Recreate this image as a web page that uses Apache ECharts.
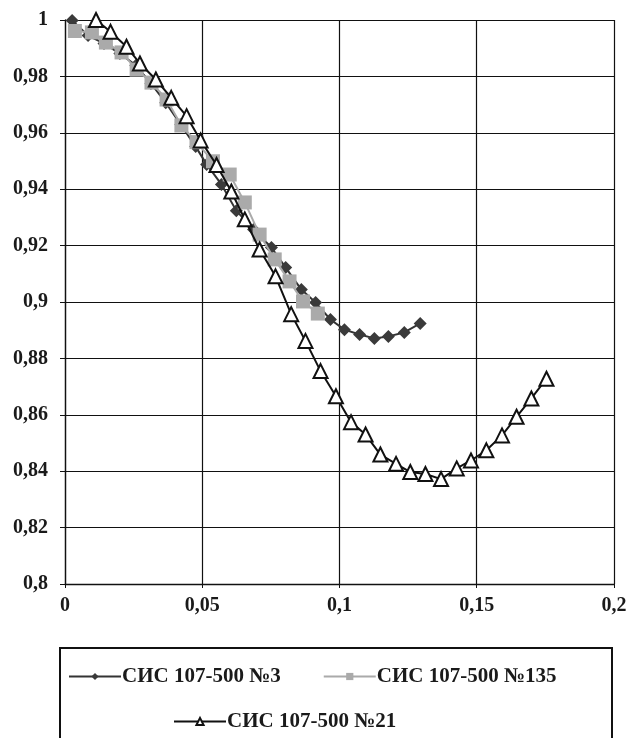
<!DOCTYPE html>
<html>
<head>
<meta charset="utf-8">
<script src="https://cdn.jsdelivr.net/npm/echarts@6/dist/echarts.min.js"></script>
<style>
html,body{margin:0;padding:0;background:#fff;}
#chart{width:642px;height:738px;}
</style>
</head>
<body>
<div id="chart"></div>
<script>
// ---- data ----
const seriesNames = ['СИС 107-500 №3', 'СИС 107-500 №135', 'СИС 107-500 №21'];

const s3X = [0.0026,0.0084,0.0142,0.0200,0.0258,0.0313,0.0367,0.0422,0.0476,0.0516,0.0570,0.0624,0.0687,0.0752,0.0804,0.0861,0.0913,0.0967,0.1018,0.1073,0.1127,0.1178,0.1236,0.1294];
const s3Y = [0.9998,0.9945,0.9917,0.9881,0.9839,0.9775,0.9707,0.9629,0.9551,0.9488,0.9417,0.9324,0.9257,0.9193,0.9122,0.9044,0.8998,0.8938,0.8902,0.8885,0.8871,0.8878,0.8892,0.8924];

const s135X = [0.0036,0.0098,0.0149,0.0206,0.0261,0.0315,0.0370,0.0424,0.0479,0.0539,0.0600,0.0655,0.0709,0.0764,0.0818,0.0867,0.0921];
const s135Y = [0.9961,0.9956,0.9920,0.9885,0.9824,0.9778,0.9718,0.9626,0.9567,0.9499,0.9452,0.9353,0.9239,0.9151,0.9073,0.9002,0.8959];

const s21X = [0.0113,0.0166,0.0224,0.0273,0.0331,0.0387,0.0443,0.0494,0.0552,0.0606,0.0655,0.0709,0.0767,0.0824,0.0876,0.0931,0.0987,0.1042,0.1095,0.1149,0.1206,0.1258,0.1313,0.1370,0.1427,0.1479,0.1535,0.1592,0.1645,0.1699,0.1754];
const s21Y = [1.0000,0.9958,0.9905,0.9846,0.9789,0.9724,0.9659,0.9573,0.9486,0.9392,0.9293,0.9186,0.9091,0.8957,0.8862,0.8755,0.8666,0.8574,0.8530,0.8459,0.8426,0.8397,0.8390,0.8372,0.8410,0.8438,0.8474,0.8527,0.8593,0.8658,0.8728];

const xTicks = [0, 0.05, 0.1, 0.15, 0.2];
const yTicks = [0.8, 0.82, 0.84, 0.86, 0.88, 0.9, 0.92, 0.94, 0.96, 0.98, 1];

// ---- chart ----
const pairs = (xs, ys) => xs.map((x, i) => [x, ys[i]]);
const fmt = v => String(parseFloat(Number(v).toFixed(3))).replace('.', ',');
const FONT = '"Liberation Serif", "DejaVu Serif", serif';

const chart = echarts.init(document.getElementById('chart'), null, {renderer: 'canvas'});

chart.setOption({
  animation: false,
  backgroundColor: '#fff',
  grid: {left: 65, right: 28, top: 20, bottom: 154, containLabel: false},
  xAxis: {
    type: 'value',
    min: xTicks[0], max: xTicks[xTicks.length - 1], interval: xTicks[1] - xTicks[0],
    axisLine: {show: true, onZero: false, lineStyle: {color: '#111', width: 1.3}},
    axisTick: {show: true, length: 4, lineStyle: {color: '#111'}},
    splitLine: {show: true, lineStyle: {color: '#111', width: 1.2}},
    axisLabel: {formatter: fmt, margin: 12, color: '#1a1a1a', fontFamily: FONT, fontWeight: 'bold', fontSize: 20}
  },
  yAxis: {
    type: 'value',
    min: yTicks[0], max: yTicks[yTicks.length - 1], interval: 0.02,
    axisLine: {show: true, onZero: false, lineStyle: {color: '#111', width: 1.3}},
    axisTick: {show: true, length: 5, lineStyle: {color: '#111'}},
    splitLine: {show: true, lineStyle: {color: '#111', width: 1.2}},
    axisLabel: {formatter: fmt, margin: 17, color: '#1a1a1a', fontFamily: FONT, fontWeight: 'bold', fontSize: 20}
  },
  legend: [
    {
      data: [seriesNames[0], seriesNames[1]],
      left: 63, top: 661,
      itemGap: 42, itemWidth: 52, itemHeight: 9,
      textStyle: {fontFamily: FONT, fontWeight: 'bold', fontSize: 21, color: '#1a1a1a', padding: [0, 0, 0, -4]}
    },
    {
      data: [seriesNames[2]],
      left: 168, top: 706,
      itemWidth: 52, itemHeight: 9,
      textStyle: {fontFamily: FONT, fontWeight: 'bold', fontSize: 21, color: '#1a1a1a', padding: [0, 0, 0, -4]}
    }
  ],
  graphic: [{
    type: 'rect',
    shape: {x: 60, y: 648, width: 552, height: 110},
    style: {fill: 'none', stroke: '#111', lineWidth: 2},
    silent: true
  }],
  series: [
    {
      name: seriesNames[0], type: 'line',
      data: pairs(s3X, s3Y),
      symbol: 'diamond', symbolSize: 13,
      lineStyle: {color: '#333', width: 2},
      itemStyle: {color: '#3a3a3a', borderColor: '#3a3a3a', borderWidth: 0},
      z: 2
    },
    {
      name: seriesNames[1], type: 'line',
      data: pairs(s135X, s135Y),
      symbol: 'rect', symbolSize: 14,
      lineStyle: {color: '#aaa', width: 2},
      itemStyle: {color: '#aaaaaa', borderColor: '#aaaaaa', borderWidth: 0},
      z: 3
    },
    {
      name: seriesNames[2], type: 'line',
      data: pairs(s21X, s21Y),
      symbol: 'triangle', symbolSize: 14,
      lineStyle: {color: '#111', width: 2},
      itemStyle: {color: '#fff', borderColor: '#111', borderWidth: 2},
      z: 4
    }
  ]
});
</script>
</body>
</html>
